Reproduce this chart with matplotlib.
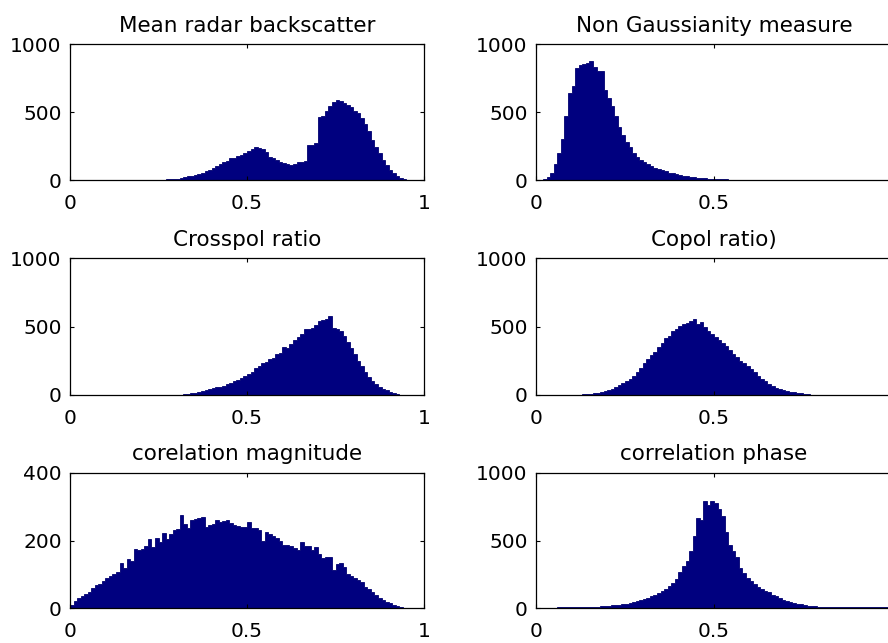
import numpy as np
import matplotlib
matplotlib.use('Agg')
import matplotlib.pyplot as plt

# bin counts, 100 bins of width 0.01 on [0, 1]
mean_backscatter = [
    0, 0, 0, 0, 0, 0, 0, 0, 0, 0,
    0, 0, 0, 0, 0, 3, 0, 0, 0, 0,
    1, 0, 2, 0, 2, 3, 2, 4, 5, 6,
    10, 14, 20, 26, 32, 40, 45, 55, 65, 75,
    85, 100, 115, 130, 140, 160, 165, 175, 185, 200,
    215, 230, 240, 238, 225, 205, 170, 160, 150, 135,
    125, 115, 110, 120, 130, 135, 140, 255, 260, 275,
    465, 470, 510, 545, 570, 585, 583, 565, 555, 540,
    510, 490, 455, 415, 360, 295, 240, 195, 150, 110,
    75, 50, 30, 15, 6, 2, 0, 0, 0, 0]

non_gaussianity = [
    0, 0, 5, 20, 50, 120, 200, 300, 470, 640,
    690, 820, 845, 855, 860, 875, 830, 800, 805, 660,
    600, 545, 470, 390, 330, 280, 245, 200, 170, 145,
    135, 115, 105, 90, 80, 75, 65, 55, 50, 42,
    35, 30, 27, 24, 21, 18, 15, 13, 11, 9,
    8, 6, 5, 9, 0, 0, 0, 0, 0, 0,
    0, 0, 0, 0, 0, 0, 0, 0, 0, 0,
    0, 0, 0, 0, 0, 0, 0, 0, 0, 0,
    0, 0, 0, 0, 0, 0, 0, 0, 0, 0,
    0, 0, 0, 0, 0, 0, 0, 0, 0, 0]

crosspol = [
    0, 0, 0, 0, 0, 0, 0, 0, 0, 0,
    0, 0, 0, 0, 0, 0, 0, 0, 0, 0,
    0, 0, 0, 0, 0, 0, 0, 0, 0, 0,
    0, 0, 8, 5, 12, 15, 22, 30, 38, 45,
    50, 55, 62, 68, 80, 90, 100, 112, 122, 140,
    155, 170, 200, 210, 235, 240, 260, 270, 300, 310,
    350, 345, 370, 400, 420, 445, 480, 480, 490, 510,
    540, 545, 555, 575, 490, 480, 470, 430, 390, 340,
    300, 250, 210, 170, 135, 105, 80, 62, 45, 33,
    20, 12, 5, 0, 0, 0, 0, 0, 0, 0]

copol = [
    0, 0, 0, 0, 0, 0, 0, 0, 0, 0,
    0, 0, 0, 6, 5, 8, 12, 16, 20, 28,
    35, 45, 58, 70, 85, 100, 120, 140, 165, 200,
    230, 260, 290, 315, 350, 380, 415, 430, 470, 480,
    505, 515, 525, 540, 555, 520, 530, 500, 470, 445,
    420, 400, 380, 355, 330, 300, 275, 250, 235, 210,
    190, 165, 140, 120, 100, 80, 65, 52, 42, 35,
    28, 24, 20, 15, 12, 10, 6, 0, 0, 0,
    0, 0, 0, 0, 0, 0, 0, 0, 0, 0,
    0, 0, 0, 0, 0, 0, 0, 0, 0, 0]

corr_magnitude = [
    8, 22, 30, 35, 42, 48, 58, 68, 72, 80,
    88, 95, 100, 108, 132, 118, 144, 138, 175, 172,
    176, 185, 203, 182, 208, 196, 223, 205, 218, 231,
    233, 276, 249, 238, 262, 263, 268, 270, 241, 245,
    250, 261, 255, 258, 260, 252, 246, 243, 241, 240,
    256, 238, 236, 230, 198, 226, 218, 212, 207, 200,
    188, 186, 184, 178, 172, 197, 185, 183, 172, 182,
    160, 147, 150, 152, 113, 130, 132, 122, 100, 95,
    88, 82, 76, 62, 56, 46, 40, 30, 24, 18,
    14, 9, 5, 2, 0, 0, 0, 0, 0, 0]

corr_phase = [
    0, 0, 0, 0, 0, 0, 8, 6, 4, 7,
    8, 6, 9, 7, 8, 10, 9, 11, 12, 14,
    17, 20, 22, 25, 28, 32, 36, 42, 50, 58,
    67, 75, 88, 95, 110, 125, 140, 165, 185, 215,
    270, 310, 350, 420, 530, 670, 650, 790, 760, 790,
    780, 730, 680, 560, 470, 420, 375, 300, 260, 225,
    200, 178, 155, 140, 125, 115, 100, 88, 72, 62,
    52, 44, 38, 32, 28, 24, 18, 15, 12, 10,
    9, 8, 10, 8, 7, 9, 6, 8, 10, 7,
    8, 9, 6, 8, 7, 9, 6, 5, 4, 3]

titles = ['Mean radar backscatter', 'Non Gaussianity measure',
          'Crosspol ratio', 'Copol ratio)',
          'corelation magnitude', 'correlation phase']
panels = [mean_backscatter, non_gaussianity, crosspol, copol,
          corr_magnitude, corr_phase]
ymax = [1000, 1000, 1000, 1000, 400, 1000]

bin_edges = np.linspace(0, 1, 101)

plt.rcParams['font.family'] = ['DejaVu Sans']

fig = plt.figure(figsize=(8.88, 6.43), dpi=100)
fig.patch.set_facecolor('white')

W, H = 888.0, 643.0
col_x = [(70, 354), (536, 356)]        # left px, width px
row_y = [(44, 180), (258, 395), (473, 608)]  # top px, bottom px

for k in range(6):
    r, c = k // 2, k % 2
    left, width = col_x[c]
    top, bottom = row_y[r]
    ax = fig.add_axes([left / W, 1 - bottom / H, width / W, (bottom - top) / H])
    # solid histogram outline, like matlab hist()
    ax.stairs(panels[k], bin_edges, fill=True, color='#00007f',
              edgecolor='#000070', linewidth=0.6)
    ax.set_xlim(0, 1)
    ax.set_ylim(0, ymax[k])
    ax.set_xticks([0, 0.5, 1])
    ax.set_xticklabels(['0', '0.5', '1'])
    ax.set_yticks([0, ymax[k] / 2, ymax[k]])
    ax.set_yticklabels([str(int(v)) for v in (0, ymax[k] / 2, ymax[k])])
    ax.tick_params(axis='both', direction='in', length=3, width=0.8,
                   top=True, right=True, labelsize=14.5, colors='black')
    ax.tick_params(axis='x', pad=10)
    ax.tick_params(axis='y', pad=6)
    for sp in ax.spines.values():
        sp.set_linewidth(0.9)
        sp.set_color('black')
    ax.set_title(titles[k], fontsize=15.5, pad=9)

fig.savefig('out.png', dpi=100)
